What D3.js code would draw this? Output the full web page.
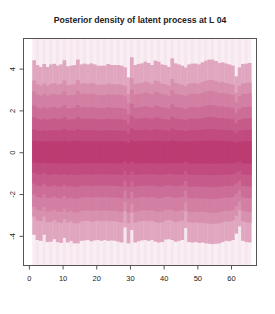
<!DOCTYPE html>
<html>
<head>
<meta charset="utf-8">
<script src="https://cdn.jsdelivr.net/npm/d3@7"></script>
<style>
  body { margin: 0; background: #fff; }
  text { font-family: "Liberation Sans", Arial, sans-serif; fill: #222; }
</style>
</head>
<body>
<svg width="275" height="314"></svg>
<script>
// columns (time points along the x axis), each drawn over [t, t+1]
const timePoints = d3.range(1, 66);

// outer band edges (upper / lower) for each column
const upperEdge = [4.40, 4.17, 4.08, 4.22, 4.08, 4.20, 4.23, 4.14, 4.20, 4.40,
  4.11, 4.14, 4.17, 4.43, 4.20, 4.24, 4.20, 4.25, 4.20, 4.14,
  4.14, 4.14, 4.22, 4.17, 4.17, 4.17, 4.14, 4.06, 3.58, 4.54,
  4.17, 4.22, 4.25, 4.33, 4.27, 4.17, 4.38, 4.33, 4.20, 4.17,
  4.08, 4.49, 4.25, 4.20, 4.14, 4.05, 4.20, 4.24, 4.24, 4.20,
  4.30, 4.38, 4.43, 4.43, 4.36, 4.27, 4.30, 4.24, 4.20, 4.14,
  3.63, 4.06, 4.22, 4.24, 4.27];
const lowerEdge = [-3.95, -4.20, -4.24, -3.95, -4.30, -4.28, -4.16, -4.30, -4.34, -4.10,
  -4.32, -4.24, -4.36, -4.36, -4.24, -4.22, -4.20, -4.26, -4.22, -4.20,
  -4.24, -4.20, -4.24, -4.22, -4.24, -4.28, -4.32, -3.60, -4.36, -3.72,
  -4.32, -4.26, -4.22, -4.20, -4.24, -4.20, -4.28, -4.32, -4.30, -4.18,
  -4.16, -4.20, -4.28, -4.24, -4.20, -3.62, -4.30, -4.32, -4.30, -4.34,
  -4.32, -4.36, -4.38, -4.40, -4.38, -4.36, -4.30, -4.24, -4.26, -4.20,
  -3.90, -3.55, -4.24, -4.30, -4.32];

// nested credible levels as a fraction of the outer edge
const levelFrac = [1, 0.78, 0.66, 0.51, 0.38, 0.25, 0.125];
const bandColors = ['#e0a6bf', '#d890af', '#d27fa3', '#cc6d97', '#c65b8a', '#c14b7e', '#bc3c72'];
const tailColors = ['#f9eef3', '#f6e7ee'];

const xTicks = [0, 10, 20, 30, 40, 50, 60];
const yTicks = [-4, -2, 0, 2, 4];
const titleText = 'Posterior density of latent process at L 04';

const svg = d3.select('svg');

const x = d3.scaleLinear().domain([-1.6, 67.56]).range([23.5, 256.5]);
const y = d3.scaleLinear().domain([-5.42, 5.44]).range([265.5, 38.5]);

const plot = svg.append('g');

// light tail for every column
plot.selectAll('rect.tail').data(timePoints)
  .enter().append('rect')
    .attr('class', 'tail')
    .attr('x', d => x(d))
    .attr('width', d => x(d + 1) - x(d) + 0.3)
    .attr('y', y.range()[1])
    .attr('height', y.range()[0] - y.range()[1])
    .attr('fill', (d, i) => tailColors[i % 2]);

// nested bands, outer to inner
levelFrac.forEach((f, j) => {
  plot.selectAll(`rect.band${j}`).data(timePoints)
    .enter().append('rect')
      .attr('class', `band${j}`)
      .attr('x', d => x(d))
      .attr('width', d => x(d + 1) - x(d) + 0.3)
      .attr('y', (d, i) => y(upperEdge[i] * f))
      .attr('height', (d, i) => y(lowerEdge[i] * f) - y(upperEdge[i] * f))
      .attr('fill', bandColors[j]);
});

// box
svg.append('rect')
  .attr('x', 23.5).attr('y', 38.5)
  .attr('width', 233).attr('height', 227)
  .attr('fill', 'none')
  .attr('stroke', '#555')
  .attr('stroke-width', 1);

// x axis
const xAxis = svg.append('g')
  .attr('transform', 'translate(0,265.5)')
  .call(d3.axisBottom(x).tickValues(xTicks).tickSize(4).tickPadding(6));
xAxis.select('.domain').remove();
xAxis.selectAll('line').attr('stroke', '#555');
xAxis.selectAll('text').style('font-size', '7.5px').attr('fill', '#222');

// y axis (labels turned like R)
const yAxis = svg.append('g')
  .attr('transform', 'translate(23.5,0)')
  .call(d3.axisLeft(y).tickValues(yTicks).tickSize(4).tickFormat(d => d));
yAxis.select('.domain').remove();
yAxis.selectAll('line').attr('stroke', '#555');
yAxis.selectAll('text')
  .style('font-size', '7.5px')
  .attr('fill', '#222')
  .attr('x', null).attr('dy', null)
  .attr('text-anchor', 'middle')
  .attr('transform', 'translate(-11.5,0) rotate(-90)')
  .attr('dominant-baseline', 'central');

// title
svg.append('text')
  .attr('x', 140)
  .attr('y', 23)
  .attr('text-anchor', 'middle')
  .style('font-size', '8.7px')
  .style('font-weight', 'bold')
  .attr('fill', '#000')
  .text(titleText);
</script>
</body>
</html>
